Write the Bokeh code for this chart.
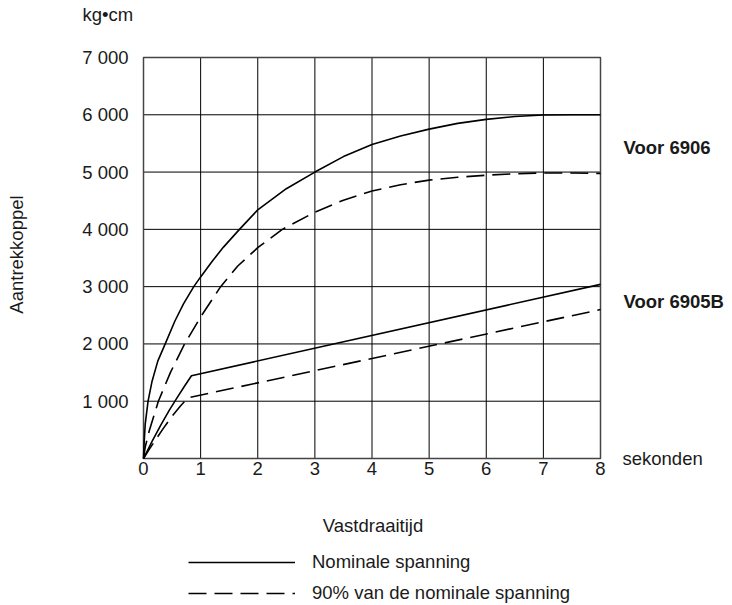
from bokeh.plotting import figure
from bokeh.models import Range1d, FixedTicker, Label, Legend, LegendItem
from bokeh.embed import file_html
from bokeh.resources import INLINE
import math

# Tightening torque (kg*cm) against tightening time (s)
x_ticks = [0, 1, 2, 3, 4, 5, 6, 7, 8]
y_ticks = [1000, 2000, 3000, 4000, 5000, 6000, 7000]
y_tick_labels = ["1 000", "2 000", "3 000", "4 000", "5 000", "6 000", "7 000"]

# Model 6906, nominal voltage
t_6906_nom = [0, 0.01, 0.03, 0.08, 0.15, 0.25, 0.38, 0.55, 0.7, 0.88, 1.0, 1.2, 1.4,
              1.68, 2.0, 2.5, 3.0, 3.5, 4.0, 4.5, 5.0, 5.5, 6.0, 6.5, 7.0, 7.5, 8.0]
m_6906_nom = [0, 250, 600, 1000, 1350, 1700, 2000, 2400, 2700, 3000, 3170, 3440, 3690,
              4000, 4340, 4710, 5000, 5270, 5480, 5630, 5750, 5850, 5920, 5970, 5995, 6000, 6000]

# Model 6906, 90% of nominal voltage
t_6906_90 = [0, 0.03, 0.1, 0.26, 0.47, 0.72, 1.0, 1.35, 1.65, 2.0, 2.43, 3.0, 3.5, 4.0,
             4.5, 5.0, 5.5, 6.0, 6.5, 7.0, 7.5, 8.0]
m_6906_90 = [0, 200, 480, 1000, 1500, 2000, 2470, 3000, 3360, 3680, 4000, 4300, 4510, 4670,
             4780, 4860, 4910, 4945, 4970, 4985, 4985, 4975]

# Model 6905B, nominal voltage
t_6905b_nom = [0, 0.15, 0.3, 0.45, 0.6, 0.72, 0.84, 8.0]
m_6905b_nom = [0, 300, 580, 840, 1080, 1265, 1445, 3040]

# Model 6905B, 90% of nominal voltage
t_6905b_90 = [0, 0.1, 0.2, 0.35, 0.5, 0.65, 0.78, 8.0]
m_6905b_90 = [0, 160, 310, 530, 740, 920, 1060, 2600]

FONT = "Liberation Sans"
INK = "#1a1a1a"
FS = "18.5px"
W, H = 732, 605

# pixel box of the plotting area inside the canvas
PX_L, PX_R, PX_T, PX_B = 143, 600, 57, 458
X_MAX, Y_MAX = x_ticks[-1], y_ticks[-1]


def dx(px):
    return (px - PX_L) / (PX_R - PX_L) * X_MAX


def dy(py):
    return (PX_B - py) / (PX_B - PX_T) * Y_MAX


# the frame fills the whole canvas; the axes are pinned at x=0 / y=0
p = figure(width=W, height=H,
           x_range=Range1d(dx(0), dx(W)), y_range=Range1d(dy(H), dy(0)),
           output_backend="svg", toolbar_location=None,
           min_border=0, min_border_left=0, min_border_right=0,
           min_border_top=0, min_border_bottom=0)
p.background_fill_color = "white"
p.border_fill_color = "white"
p.outline_line_color = None
p.xgrid.visible = False
p.ygrid.visible = False

p.xaxis.ticker = FixedTicker(ticks=x_ticks)
p.yaxis.ticker = FixedTicker(ticks=y_ticks)
p.yaxis.major_label_overrides = {t: s for t, s in zip(y_ticks, y_tick_labels)}
p.xaxis.fixed_location = 0
p.yaxis.fixed_location = 0
p.xaxis.bounds = (0, X_MAX)
p.yaxis.bounds = (0, Y_MAX)
for ax in (p.xaxis, p.yaxis):
    ax.axis_line_color = None
    ax.major_tick_line_color = None
    ax.minor_tick_line_color = None
    ax.major_tick_out = 0
    ax.major_tick_in = 0
    ax.minor_tick_out = 0
    ax.minor_tick_in = 0
    ax.major_label_text_font = FONT
    ax.major_label_text_font_size = FS
    ax.major_label_text_color = INK
p.xaxis.major_label_standoff = 3
p.yaxis.major_label_standoff = 15

# grid lines at every tick, bounded to the chart box
h_lines = [0] + y_ticks
p.segment(x0=x_ticks, y0=[0] * len(x_ticks), x1=x_ticks, y1=[Y_MAX] * len(x_ticks),
          line_color="black", line_width=1)
p.segment(x0=[0] * len(h_lines), y0=h_lines, x1=[X_MAX] * len(h_lines), y1=h_lines,
          line_color="black", line_width=1)
p.quad(left=[0], right=[X_MAX], bottom=[0], top=[Y_MAX], fill_color=None,
       line_color="#444444", line_width=1.5)

DASH = "18 8"
r_nom = p.line(t_6906_nom, m_6906_nom, line_color="black", line_width=1.6)
r_90 = p.line(t_6906_90, m_6906_90, line_color="black", line_width=1.6, line_dash=DASH)
p.line(t_6905b_nom, m_6905b_nom, line_color="black", line_width=1.6)
p.line(t_6905b_90, m_6905b_90, line_color="black", line_width=1.6, line_dash=DASH)


def add_text(text, px, py, align="left", baseline="middle", bold=False, angle=0.0):
    p.add_layout(Label(x=dx(px), y=dy(py), text=text, text_font=FONT, text_font_size=FS,
                       text_color=INK, text_align=align, text_baseline=baseline,
                       text_font_style="bold" if bold else "normal", angle=angle))


add_text("kg•cm", 82, 14)
add_text("sekonden", 622, 458, baseline="alphabetic")
add_text("Vastdraaitijd", 372.5, 525, align="center", baseline="alphabetic")
add_text("Aantrekkoppel", 16, 254, align="center", angle=math.pi / 2)
add_text("Voor 6906", 623, 147, baseline="alphabetic", bold=True)
add_text("Voor 6905B", 623, 300.5, baseline="alphabetic", bold=True)

legend = Legend(items=[LegendItem(label="Nominale spanning", renderers=[r_nom]),
                       LegendItem(label="90% van de nominale spanning", renderers=[r_90])],
                location=(188, 1),
                orientation="vertical", glyph_width=107, glyph_height=20,
                label_height=20, label_standoff=17, spacing=9, padding=0, margin=0,
                border_line_color=None, background_fill_alpha=0,
                label_text_font=FONT, label_text_font_size=FS, label_text_color=INK)
p.add_layout(legend)

open("out.html", "w").write(file_html(p, INLINE))
